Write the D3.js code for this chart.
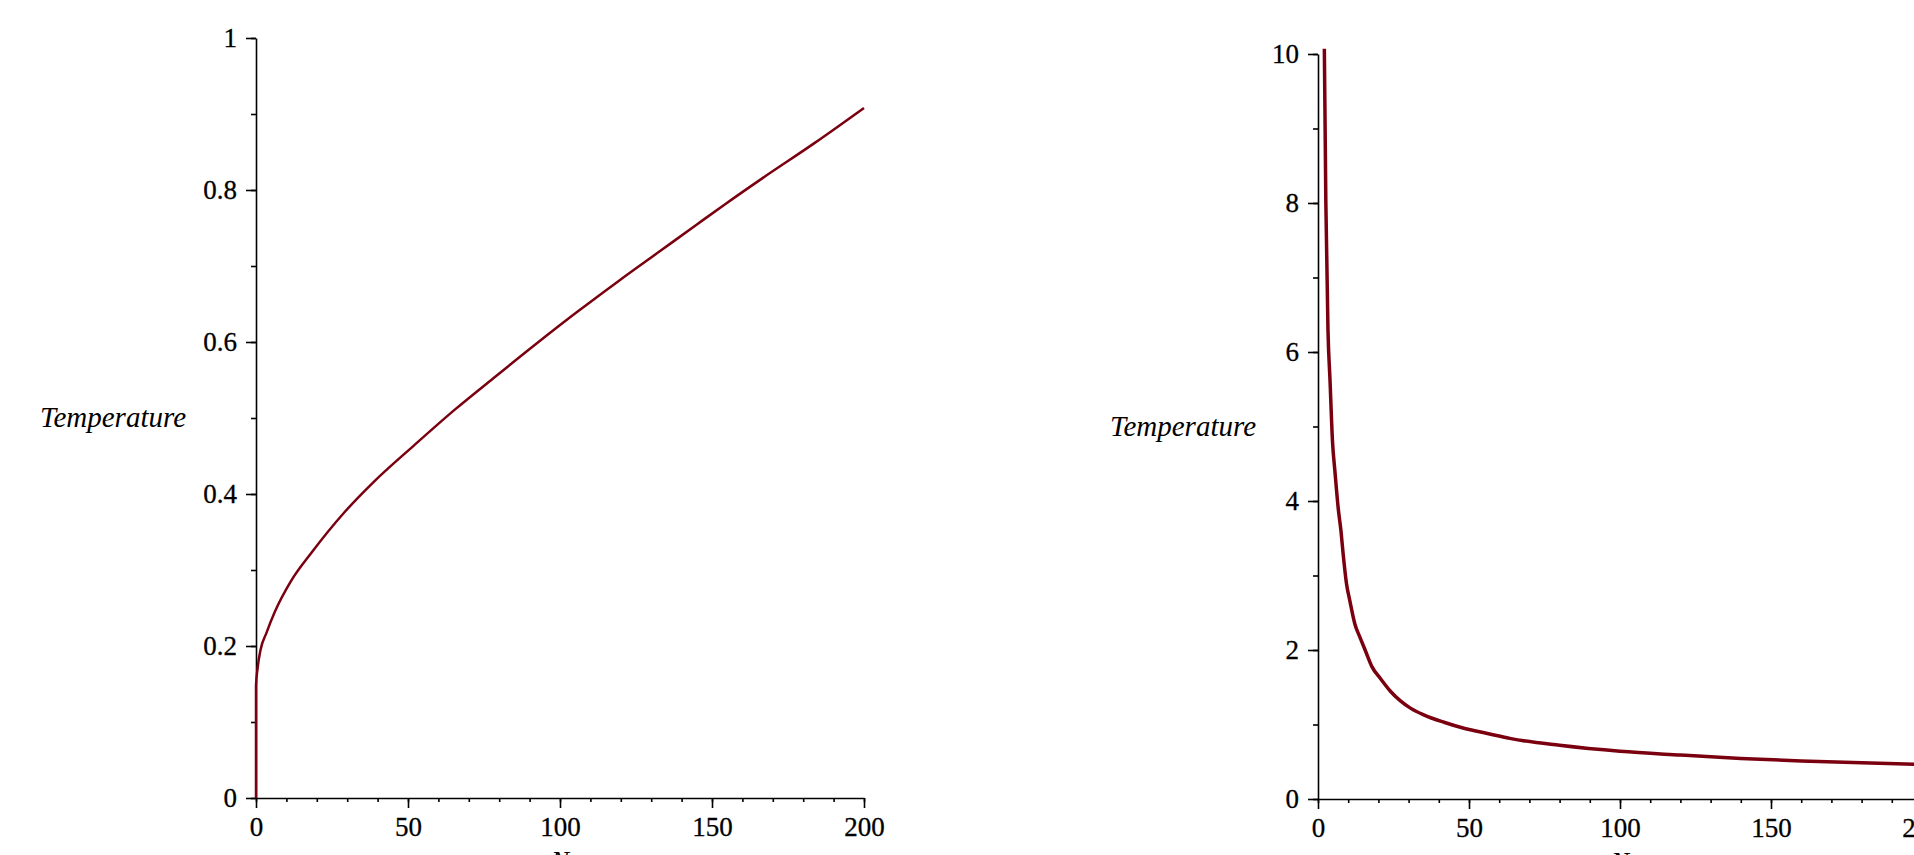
<!DOCTYPE html>
<html>
<head>
<meta charset="utf-8">
<script src="https://cdn.jsdelivr.net/npm/d3@7"></script>
<style>
    body { margin: 0; background: #fff; overflow: hidden; }
    svg { display: block; }
    .tick text { font-family: "Liberation Serif", "Times New Roman", serif; }
</style>
</head>
<body>
<svg id="chart" width="1914" height="855"></svg>
<script>
// left panel: temperature rising with N
const leftN = [0, 0, 0.5, 1.5, 3.5, 6.2, 11.6, 18.3, 29.1, 38.5, 52, 65.4, 78.9, 92.3, 105.8, 119.2, 132.7, 144.8, 154.2, 166.4, 183.8, 200];
const leftT = [0, 0.148, 0.170, 0.195, 0.218, 0.245, 0.286, 0.323, 0.376, 0.415, 0.464, 0.511, 0.555, 0.598, 0.640, 0.680, 0.719, 0.754, 0.781, 0.815, 0.862, 0.908];

// right panel: temperature falling with N
const rightN = [2.1, 2.6, 3.3, 4.0, 4.8, 5.6, 6.7, 7.6, 8.3, 9.4, 10.6, 12.2, 13.9, 15.6, 17.8, 20.6, 23.9, 27.2, 30.6, 35, 41.7, 48.3, 56.1, 63.9, 80, 100, 120, 140, 160, 180, 200];
const rightT = [10.07, 8.0, 6.3, 5.6, 4.8, 4.4, 3.9, 3.6, 3.3, 2.9, 2.65, 2.35, 2.17, 2.0, 1.78, 1.62, 1.45, 1.32, 1.22, 1.13, 1.03, 0.95, 0.88, 0.81, 0.72, 0.64, 0.59, 0.545, 0.51, 0.485, 0.465];

const xTicks = [0, 50, 100, 150, 200];
const leftYTicks = [0, 0.2, 0.4, 0.6, 0.8, 1];
const rightYTicks = [0, 2, 4, 6, 8, 10];

const yLabel = 'Temperature';
const xLabel = 'N';

const lineColor = '#7a0010';
const svg = d3.select('#chart');

function drawPanel(opts) {
    let x = d3.scaleLinear().domain([0, 200]).range([opts.x0, opts.x1]);
    let y = d3.scaleLinear().domain(opts.yDomain).range([opts.y0, opts.y1]);

    let g = svg.append('g');

    // minor ticks first, no labels
    g.append('g')
        .attr('transform', `translate(0,${opts.y0})`)
        .call(d3.axisBottom(x).tickValues(d3.range(0, 201, 10)).tickSize(4).tickFormat(''))
        .call(a => a.select('.domain').remove());
    g.append('g')
        .attr('transform', `translate(${opts.x0},0)`)
        .call(d3.axisLeft(y).tickValues(opts.yMinor).tickSize(5).tickFormat(''))
        .call(a => a.select('.domain').remove());

    g.append('g')
        .attr('transform', `translate(0,${opts.y0})`)
        .call(d3.axisBottom(x).tickValues(xTicks).tickSize(10).tickSizeOuter(0).tickPadding(9).tickFormat(d3.format('d')));
    g.append('g')
        .attr('transform', `translate(${opts.x0},0)`)
        .call(d3.axisLeft(y).tickValues(opts.yTicks).tickSize(10).tickSizeOuter(0).tickPadding(9).tickFormat(d => String(d)));

    g.selectAll('.tick line, .domain').attr('stroke', '#000').attr('stroke-width', 1.6);
    g.selectAll('.tick text').attr('font-size', 27).attr('fill', '#000')
        .attr('stroke', '#000').attr('stroke-width', 0.3);

    let pts = opts.n.map((d, i) => [d, opts.t[i]]);
    g.append('path')
        .datum(pts)
        .attr('fill', 'none')
        .attr('stroke', lineColor)
        .attr('stroke-width', opts.lw)
        .attr('stroke-linejoin', 'round')
        .attr('d', d3.line().x(d => x(d[0])).y(d => y(d[1])).curve(d3.curveMonotoneX));

    g.append('text')
        .attr('x', opts.labelX)
        .attr('y', y((opts.yDomain[0] + opts.yDomain[1]) / 2) + 9)
        .attr('text-anchor', 'middle')
        .attr('font-family', '"Liberation Serif", "Times New Roman", serif')
        .attr('font-style', 'italic')
        .attr('font-size', 29)
        .text(yLabel);

    g.append('text')
        .attr('x', (opts.x0 + opts.x1) / 2)
        .attr('y', opts.y0 + 72)
        .attr('text-anchor', 'middle')
        .attr('font-family', '"Liberation Serif", "Times New Roman", serif')
        .attr('font-style', 'italic')
        .attr('font-size', 27)
        .text(xLabel);
}

drawPanel({
    x0: 256, x1: 864, y0: 798, y1: 38,
    yDomain: [0, 1], yTicks: leftYTicks, yMinor: d3.range(0, 11).map(d => d / 10),
    n: leftN, t: leftT, lw: 2.5, labelX: 113
});

drawPanel({
    x0: 1318, x1: 1922, y0: 799, y1: 54,
    yDomain: [0, 10], yTicks: rightYTicks, yMinor: d3.range(0, 11),
    n: rightN, t: rightT, lw: 3.5, labelX: 1183
});
</script>
</body>
</html>
